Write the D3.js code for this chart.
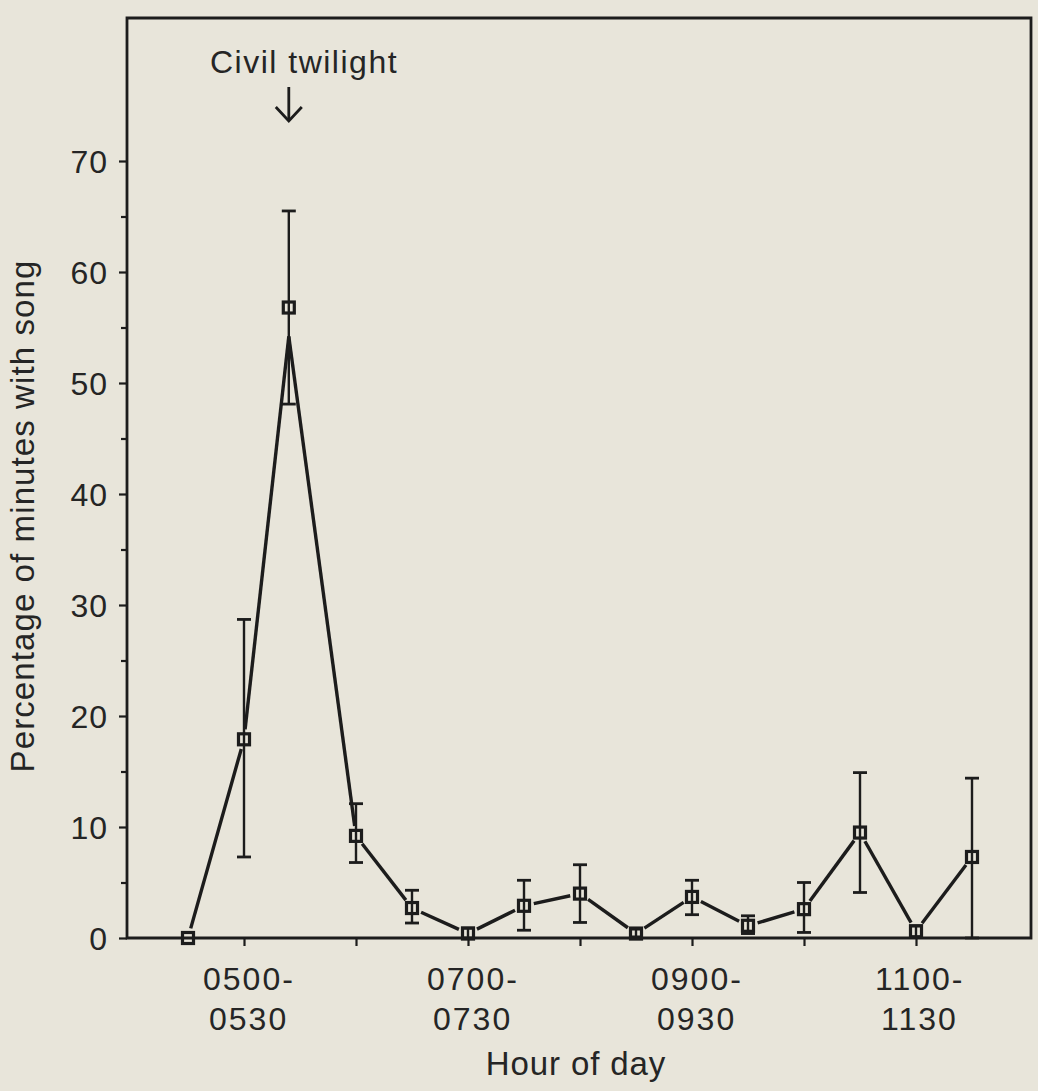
<!DOCTYPE html>
<html><head><meta charset="utf-8">
<script src="https://cdn.jsdelivr.net/npm/d3@7"></script>
<style>
html,body{margin:0;padding:0;background:#e8e5da;}
svg{display:block;}
text{font-family:"Liberation Sans",Arial,sans-serif;fill:#252525;}
</style></head>
<body>
<script>
// Half-hour slots (0 = 0430-0500 ... 14 = 1130-1200)
const slotPos   = [0, 1, 1.8, 3, 4, 5, 6, 7, 8, 9, 10, 11, 12, 13, 14];
const songPct   = [0, 17.9, 56.8, 9.2, 2.7, 0.4, 2.9, 4.0, 0.4, 3.7, 1.1, 2.6, 9.5, 0.6, 7.3];
const linePct   = [0, 17.9, 54.2, 9.2, 2.7, 0.4, 2.9, 4.0, 0.4, 3.7, 1.1, 2.6, 9.5, 0.6, 7.3];
const errLow    = [null, 7.3, 48.1, 6.8, 1.35, 0.0, 0.7, 1.4, 0.1, 2.1, 0.4, 0.5, 4.1, 0.1, 0];
const errHigh   = [null, 28.7, 65.5, 12.1, 4.3, 0.9, 5.2, 6.6, 0.8, 5.2, 2.0, 5.0, 14.9, 1.1, 14.4];
const yTicks    = [0, 10, 20, 30, 40, 50, 60, 70];
const yMinor    = [5, 15, 25, 35, 45, 55, 65];
const xTickSlots = [1, 3, 5, 7, 9, 11, 13];
const xLabelSlots = [1, 5, 9, 13];
const xLabels   = [["0500-", "0530"], ["0700-", "0730"], ["0900-", "0930"], ["1100-", "1130"]];

const W = 1038, H = 1091;
const L = 127, R = 1031, T = 18, B = 938;
const svg = d3.select("body").append("svg").attr("width", W).attr("height", H);
const ink = "#1c1c1c";

const x = d3.scaleLinear().domain([0, 1]).range([188, 244]);
const y = d3.scaleLinear().domain([0, 10]).range([B, B - 111]);

// frame
svg.append("path")
  .attr("d", `M${L},${B} L${L},${T} L${R},${T} L${R},${B} Z`)
  .attr("fill", "none").attr("stroke", ink).attr("stroke-width", 2.8);

// y axis
const yAxis = d3.axisLeft(y).tickValues(yTicks).tickSize(8).tickPadding(11).tickFormat(d3.format("d"));
const gy = svg.append("g").attr("transform", `translate(${L},0)`).call(yAxis);
gy.select(".domain").remove();
gy.selectAll("line").attr("stroke", ink).attr("stroke-width", 2.2);
gy.selectAll("text").style("font-size", "32px").style("letter-spacing", "1px")
  .attr("fill", "#252525").attr("dy", "0.36em");
const gyMinor = svg.append("g").attr("transform", `translate(${L},0)`)
  .call(d3.axisLeft(y).tickValues(yMinor).tickSize(6).tickFormat(""));
gyMinor.select(".domain").remove();
gyMinor.selectAll("line").attr("stroke", ink).attr("stroke-width", 2.2);

// x axis ticks
const gx = svg.append("g").attr("transform", `translate(0,${B})`)
  .call(d3.axisBottom(x).tickValues(xTickSlots).tickSize(8).tickFormat(""));
gx.select(".domain").remove();
gx.selectAll("line").attr("stroke", ink).attr("stroke-width", 2.2);

// x labels (two lines)
xLabelSlots.forEach((s, i) => {
  const t = svg.append("text").attr("y", B + 52)
    .style("font-size", "32px").style("letter-spacing", "2px").attr("text-anchor", "start");
  t.append("tspan").attr("x", x(s) - 41).text(xLabels[i][0]);
  t.append("tspan").attr("x", x(s) - 35).attr("dy", 40).text(xLabels[i][1]);
});

// axis titles
svg.append("text").attr("x", 576).attr("y", 1075).attr("text-anchor", "middle")
  .style("font-size", "33px").style("letter-spacing", "0.9px").text("Hour of day");
svg.append("text").attr("transform", "translate(34,516) rotate(-90)").attr("text-anchor", "middle")
  .style("font-size", "33px").style("letter-spacing", "1.1px").text("Percentage of minutes with song");

// Civil twilight annotation
svg.append("text").attr("x", 304).attr("y", 73).attr("text-anchor", "middle")
  .style("font-size", "32px").style("letter-spacing", "1.5px").text("Civil twilight");
const ax = x(slotPos[2]);
svg.append("line").attr("x1", ax).attr("x2", ax).attr("y1", 87).attr("y2", 121)
  .attr("stroke", ink).attr("stroke-width", 2.8);
svg.append("path").attr("d", `M${ax - 13},${107} L${ax},${121} L${ax + 13},${107}`)
  .attr("fill", "none").attr("stroke", ink).attr("stroke-width", 2.8);

// connecting line segments (with small gaps near markers)
const pts = slotPos.map((s, i) => [x(s), y(linePct[i]), linePct[i] !== songPct[i]]);
const gap = 10;
for (let i = 0; i < pts.length - 1; i++) {
  const [x1, y1, a1] = pts[i], [x2, y2, a2] = pts[i + 1];
  const dx = x2 - x1, dy = y2 - y1, len = Math.hypot(dx, dy);
  const g1 = a1 ? 0 : gap, g2 = a2 ? 0 : gap;
  svg.append("line")
    .attr("x1", x1 + dx * g1 / len).attr("y1", y1 + dy * g1 / len)
    .attr("x2", x2 - dx * g2 / len).attr("y2", y2 - dy * g2 / len)
    .attr("stroke", ink).attr("stroke-width", 3.4).attr("stroke-linecap", "butt");
}

// error bars
const cap = 7;
slotPos.forEach((s, i) => {
  if (errLow[i] === null) return;
  const cx = x(s);
  svg.append("line").attr("x1", cx).attr("x2", cx).attr("y1", y(errLow[i])).attr("y2", y(errHigh[i]))
    .attr("stroke", ink).attr("stroke-width", 2.4);
  [errLow[i], errHigh[i]].forEach(v => {
    svg.append("line").attr("x1", cx - cap).attr("x2", cx + cap).attr("y1", y(v)).attr("y2", y(v))
      .attr("stroke", ink).attr("stroke-width", 2.8);
  });
});

// markers
const sz = 11;
svg.selectAll("rect.m").data(slotPos).enter().append("rect")
  .attr("x", (s) => x(s) - sz / 2).attr("y", (s, i) => y(songPct[i]) - sz / 2)
  .attr("width", sz).attr("height", sz)
  .attr("fill", "none").attr("stroke", ink).attr("stroke-width", 3.2);
</script>
</body></html>
